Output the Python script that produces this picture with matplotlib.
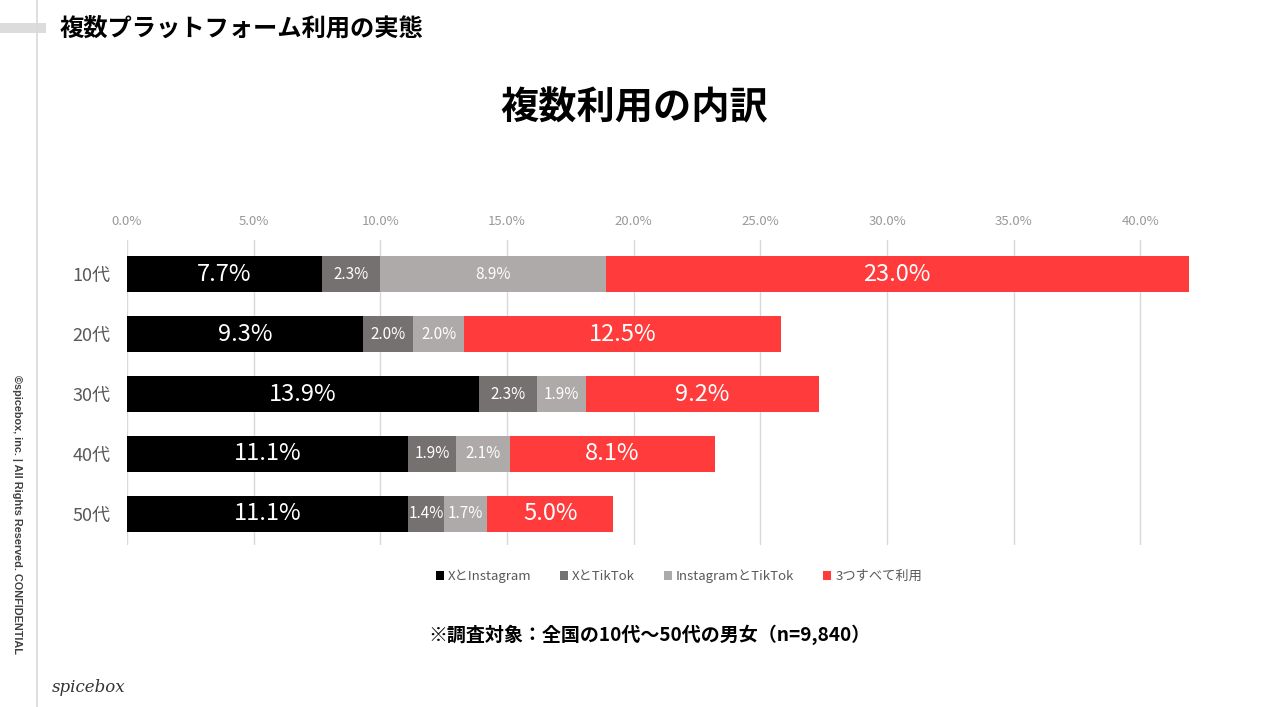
import matplotlib
matplotlib.use('Agg')
import matplotlib.pyplot as plt
from matplotlib.patches import Patch
import numpy as np

plt.rcParams['font.family'] = ['Noto Sans CJK JP', 'DejaVu Sans']

ages = ['10代', '20代', '30代', '40代', '50代']
series = ['XとInstagram', 'XとTikTok', 'InstagramとTikTok', '3つすべて利用']
x_insta = [7.7, 9.3, 13.9, 11.1, 11.1]
x_tiktok = [2.3, 2.0, 2.3, 1.9, 1.4]
insta_tiktok = [8.9, 2.0, 1.9, 2.1, 1.7]
all_three = [23.0, 12.5, 9.2, 8.1, 5.0]
ticks = [0, 5, 10, 15, 20, 25, 30, 35, 40]

colors = ['#000000', '#767171', '#AEAAAA', '#FF3B3B']
big = [True, False, False, True]

fig = plt.figure(figsize=(12.69, 7.07), dpi=100)
ax = fig.add_axes([0.1001, 0.2291, 0.8385, 0.4314])

y = np.arange(len(ages))
left = np.zeros(len(ages))
for vals, name, c, b in zip([x_insta, x_tiktok, insta_tiktok, all_three], series, colors, big):
    vals = np.array(vals)
    ax.barh(y, vals, left=left, height=0.6, color=c, label=name)
    for yi, l, v in zip(y, left, vals):
        ax.text(l + v / 2, yi, f'{v:.1f}%', ha='center', va='center',
                color='white', fontsize=17 if b else 11)
    left = left + vals

ax.set_xlim(0, 42)
ax.set_ylim(4.52, -0.57)
ax.set_xticks(ticks)
ax.set_xticklabels([f'{t:.1f}%' for t in ticks], color='#999999', fontsize=9.5)
ax.xaxis.tick_top()
ax.set_yticks(y)
ax.set_yticklabels(ages, color='#595959', fontsize=13)
ax.tick_params(length=0)
ax.tick_params(axis='x', pad=9)
ax.tick_params(axis='y', pad=12)
ax.grid(axis='x', color='#d9d9d9', linewidth=1)
ax.set_axisbelow(True)
for s in ax.spines.values():
    s.set_visible(False)

handles = [Patch(facecolor=c, label=s) for c, s in zip(colors, series)]
fig.legend(handles=handles, loc='center', bbox_to_anchor=(0.535, 0.185), ncol=4,
           frameon=False, fontsize=9.5, labelcolor='#595959',
           handlelength=0.6, handleheight=0.6, handletextpad=0.3, columnspacing=2.2)

fig.text(0.5, 0.847, '複数利用の内訳', ha='center', va='center',
         fontsize=27.5, fontweight='bold')
fig.text(0.047, 0.960, '複数プラットフォーム利用の実態', ha='left', va='center',
         fontsize=17.5, fontweight='bold')
fig.text(0.512, 0.102, '※調査対象：全国の10代～50代の男女（n=9,840）', ha='center', va='center',
         fontsize=13.7, fontweight='bold')

# left decoration
fig.add_artist(plt.Line2D([0.029, 0.029], [0, 1], color='#d9d9d9', linewidth=1.2))
fig.add_artist(plt.Rectangle((0, 0.953), 0.036, 0.015, color='#dcdcdc', linewidth=0))
fig.text(0.0135, 0.47, '©spicebox, inc. | All Rights Reserved. CONFIDENTIAL', rotation=-90,
         ha='center', va='top', fontsize=7.8, fontweight='bold', color='#404040',
         family='Liberation Sans')
fig.text(0.041, 0.028, 'spicebox', ha='left', va='center', fontsize=12,
         style='italic', family='DejaVu Serif', color='#333333')

plt.savefig('out.png', dpi=100)
